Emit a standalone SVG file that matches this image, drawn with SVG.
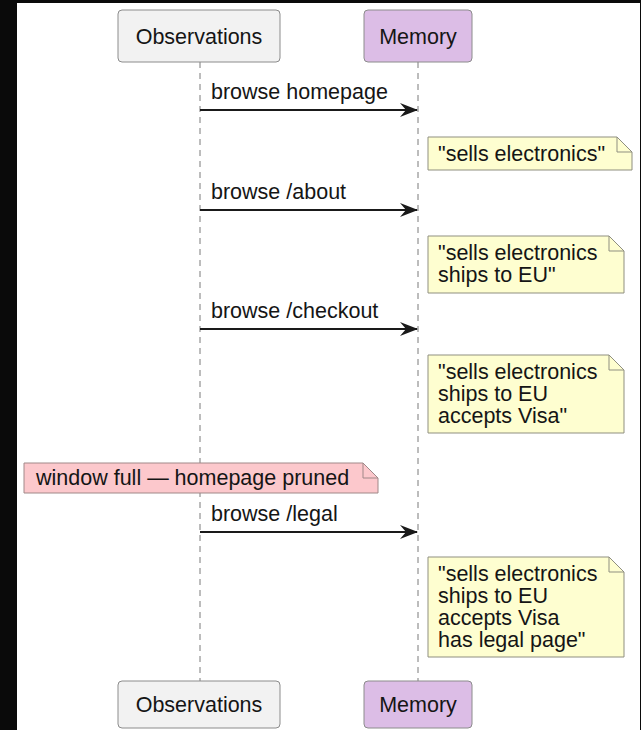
<svg xmlns="http://www.w3.org/2000/svg" width="641" height="730" viewBox="0 0 641 730">
  <style>
    text { font-family: "Liberation Sans", Arial, Helvetica, sans-serif; font-size: 21.5px; fill: #151515; }
    .lifeline { stroke: #7a7a7a; stroke-width: 1; stroke-dasharray: 6 5; fill: none; }
    .msg { stroke: #1a1a1a; stroke-width: 2.2; fill: none; marker-end: url(#arrow); }
    .obs { fill: #f2f2f2; stroke: #8c8c8c; stroke-width: 1; }
    .mem { fill: #dcbde6; stroke: #8c8c8c; stroke-width: 1; }
    .note { fill: #fefed0; stroke: #8f8f80; stroke-width: 1; }
    .warn { fill: #fcc8cc; stroke: #a08888; stroke-width: 1; }
    .fold { fill: none; stroke-width: 1; }
  </style>
  <defs>
    <marker id="arrow" viewBox="0 0 18 14" refX="17" refY="7" markerWidth="18" markerHeight="14" markerUnits="userSpaceOnUse" orient="auto">
      <path d="M0,0 L18,7 L0,14 L6,7 Z" fill="#1a1a1a"/>
    </marker>
  </defs>

  <!-- frame -->
  <rect x="0" y="0" width="641" height="730" fill="#0a0a0a"/>
  <rect x="17" y="3" width="623" height="727" fill="#ffffff"/>

  <!-- lifelines and messages -->
  <g id="connectors">
    <line class="lifeline" x1="200" y1="62" x2="200" y2="681"/>
    <line class="lifeline" x1="418" y1="62" x2="418" y2="681"/>

    <line class="msg" x1="200" y1="110" x2="417" y2="110"/>
    <text x="211" y="99">browse homepage</text>

    <line class="msg" x1="200" y1="210" x2="417" y2="210"/>
    <text x="211" y="199">browse /about</text>

    <line class="msg" x1="200" y1="329" x2="417" y2="329"/>
    <text x="211" y="318">browse /checkout</text>

    <line class="msg" x1="200" y1="532" x2="417" y2="532"/>
    <text x="211" y="521">browse /legal</text>
  </g>

  <!-- participants, top -->
  <g id="observations-top">
    <rect class="obs" x="118" y="10" width="162" height="52" rx="4"/>
    <text x="199" y="44" text-anchor="middle">Observations</text>
  </g>
  <g id="memory-top">
    <rect class="mem" x="364" y="10" width="108" height="52" rx="4"/>
    <text x="418" y="44" text-anchor="middle">Memory</text>
  </g>

  <!-- memory state notes -->
  <g id="note-1">
    <path class="note" d="M428,137 H617 L632,152 V170 H428 Z"/>
    <path class="fold" stroke="#8f8f80" d="M617,137 V152 H632"/>
    <text x="438" y="161">"sells electronics"</text>
  </g>
  <g id="note-2">
    <path class="note" d="M428,236 H609 L624,251 V293 H428 Z"/>
    <path class="fold" stroke="#8f8f80" d="M609,236 V251 H624"/>
    <text x="438" y="260">"sells electronics</text>
    <text x="438" y="282">ships to EU"</text>
  </g>
  <g id="note-3">
    <path class="note" d="M428,355 H609 L624,370 V433 H428 Z"/>
    <path class="fold" stroke="#8f8f80" d="M609,355 V370 H624"/>
    <text x="438" y="379">"sells electronics</text>
    <text x="438" y="401">ships to EU</text>
    <text x="438" y="423">accepts Visa"</text>
  </g>
  <g id="note-pruned">
    <path class="warn" d="M24,463 H363 L378,478 V493 H24 Z"/>
    <path class="fold" stroke="#a08888" d="M363,463 V478 H378"/>
    <text x="36" y="485">window full — homepage pruned</text>
  </g>
  <g id="note-4">
    <path class="note" d="M428,557 H609 L624,572 V657 H428 Z"/>
    <path class="fold" stroke="#8f8f80" d="M609,557 V572 H624"/>
    <text x="438" y="581">"sells electronics</text>
    <text x="438" y="603">ships to EU</text>
    <text x="438" y="625">accepts Visa</text>
    <text x="438" y="647">has legal page"</text>
  </g>

  <!-- participants, bottom -->
  <g id="observations-bottom">
    <rect class="obs" x="118" y="681" width="162" height="47" rx="4"/>
    <text x="199" y="712" text-anchor="middle">Observations</text>
  </g>
  <g id="memory-bottom">
    <rect class="mem" x="364" y="681" width="108" height="47" rx="4"/>
    <text x="418" y="712" text-anchor="middle">Memory</text>
  </g>
</svg>
